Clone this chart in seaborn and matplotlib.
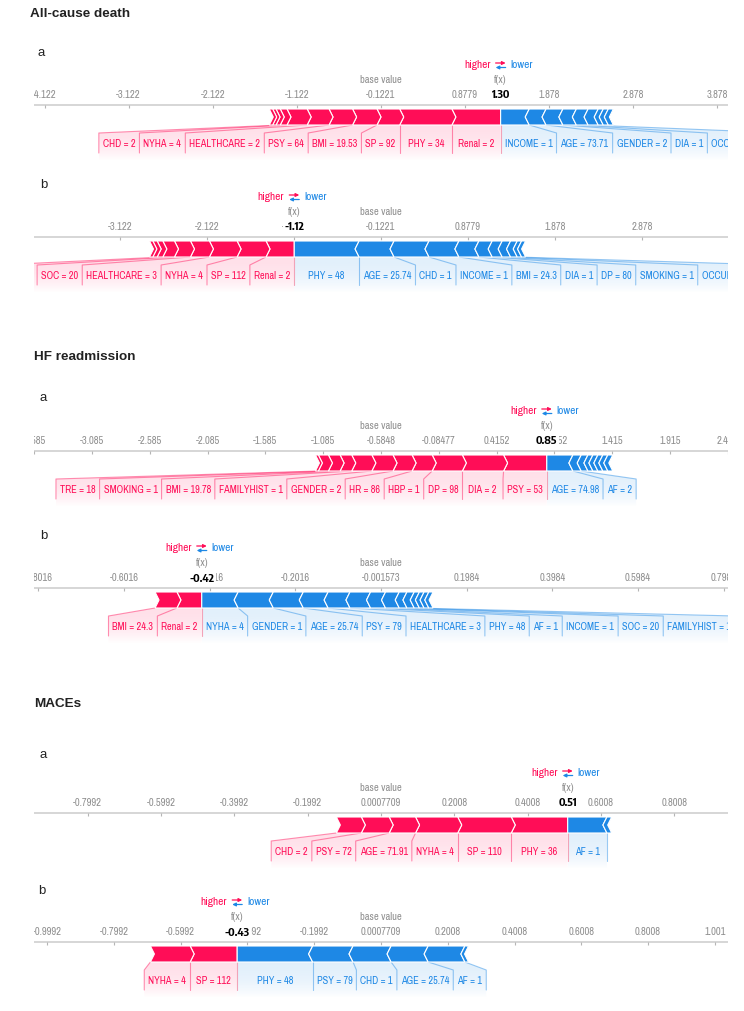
import matplotlib
matplotlib.use("Agg")
import numpy as np
import matplotlib.pyplot as plt
import seaborn as sns
from matplotlib import font_manager
from matplotlib.colors import to_rgb
from matplotlib.patches import Polygon

# ---------------- data (SHAP force plots) ----------------
# features pushing higher (red) / lower (blue), listed from f(x) outward; "" = too small to be labelled

# All-cause death, a
death_a_base = -0.1221
death_a_fx = 1.30
death_a_pos_names = ["Renal = 2", "PHY = 34", "SP = 92", "BMI = 19.53", "PSY = 64",
                     "HEALTHCARE = 2", "NYHA = 4", "CHD = 2", "", "", ""]
death_a_pos_vals = [0.58, 0.62, 0.27, 0.29, 0.28, 0.26, 0.24, 0.08, 0.05, 0.04, 0.04]
death_a_neg_names = ["INCOME = 1", "AGE = 73.71", "GENDER = 2", "DIA = 1", "OCCUPATION = 2",
                     "", "", "", ""]
death_a_neg_vals = [0.34, 0.20, 0.20, 0.16, 0.14, 0.12, 0.06, 0.06, 0.06]

# All-cause death, b
death_b_base = -0.1221
death_b_fx = -1.12
death_b_pos_names = ["Renal = 2", "SP = 112", "NYHA = 4", "HEALTHCARE = 3", "SOC = 20",
                     "HR = 84", "", "", ""]
death_b_pos_vals = [0.325, 0.333, 0.318, 0.218, 0.184, 0.134, 0.065, 0.05, 0.038]
death_b_neg_names = ["PHY = 48", "AGE = 25.74", "CHD = 1", "INCOME = 1", "BMI = 24.3", "DIA = 1",
                     "DP = 80", "SMOKING = 1", "OCCUPATION = 1", "", ""]
death_b_neg_vals = [0.746, 0.402, 0.402, 0.344, 0.230, 0.153, 0.115, 0.096, 0.077, 0.05, 0.046]

# HF readmission, a
hf_a_base = -0.58477
hf_a_fx = 0.85
hf_a_pos_names = ["PSY = 53", "DIA = 2", "DP = 98", "HBP = 1", "HR = 86", "GENDER = 2",
                  "FAMILYHIST = 1", "BMI = 19.78", "SMOKING = 1", "TRE = 18", ""]
hf_a_pos_vals = [0.374, 0.357, 0.261, 0.174, 0.165, 0.183, 0.174, 0.101, 0.101, 0.087, 0.025]
hf_a_neg_names = ["AGE = 74.98", "AF = 2", "", "", "", "", "", ""]
hf_a_neg_vals = [0.226, 0.072, 0.058, 0.043, 0.043, 0.043, 0.043, 0.043]

# HF readmission, b
hf_b_base = -0.001573
hf_b_fx = -0.42
hf_b_pos_names = ["Renal = 2", "BMI = 24.3"]
hf_b_pos_vals = [0.058, 0.051]
hf_b_neg_names = ["NYHA = 4", "GENDER = 1", "AGE = 25.74", "PSY = 79", "HEALTHCARE = 3", "PHY = 48",
                  "AF = 1", "INCOME = 1", "SOC = 20", "FAMILYHIST = 1", "", "", "", ""]
hf_b_neg_vals = [0.085, 0.082, 0.070, 0.058, 0.051, 0.048, 0.035, 0.032, 0.018, 0.017,
                 0.012, 0.011, 0.011, 0.010]

# MACEs, a
mace_a_base = 0.0007709
mace_a_fx = 0.51
mace_a_pos_names = ["PHY = 36", "SP = 110", "NYHA = 4", "AGE = 71.91", "PSY = 72", "CHD = 2"]
mace_a_pos_vals = [0.154, 0.146, 0.115, 0.072, 0.076, 0.068]
mace_a_neg_names = ["AF = 1", ""]
mace_a_neg_vals = [0.107, 0.013]

# MACEs, b
mace_b_base = 0.0007709
mace_b_fx = -0.43
mace_b_pos_names = ["SP = 112", "NYHA = 4"]
mace_b_pos_vals = [0.141, 0.119]
mace_b_neg_names = ["PHY = 48", "PSY = 79", "CHD = 1", "AGE = 25.74", "AF = 1", ""]
mace_b_neg_vals = [0.226, 0.121, 0.114, 0.111, 0.110, 0.011]

section_titles = ["All-cause death", "HF readmission", "MACEs"]
panel_letters = ["a", "b", "a", "b", "a", "b"]

# ---------------- layout (pixels of the 744x1011 picture) ----------------
W, H = 744, 1011
AX_LEFT, AX_WIDTH = 34, 694
axis_rows = [105, 237, 451, 588, 813, 942]
letter_pos = [(37, 53), (40, 185), (40, 398), (40, 536), (40, 755), (38, 891)]
title_pos = [(30, 14), (34, 357), (34, 704)]

RED = "#FF0D57"
BLUE = "#1E88E5"

sns.set_theme(style="white")
available = {f.name for f in font_manager.fontManager.ttflist}
NARROW, SHRINK = "Liberation Sans", 0.84
for cand in ["Liberation Sans Narrow", "Archivo Narrow", "IBM Plex Sans Condensed"]:
    if cand in available:
        NARROW, SHRINK = cand, 1.0
        break
BOLD_NARROW = NARROW
if NARROW == "Archivo Narrow":
    for cand in ["Encode Sans Condensed", "Barlow Semi Condensed"]:
        if cand in available:
            BOLD_NARROW = cand
            break
plt.rcParams["font.family"] = ["Liberation Sans", "DejaVu Sans"]

TICK_FS = 7.6 * SHRINK
LABEL_FS = 7.4 * SHRINK
FX_FS = 8.2 * SHRINK


def nice_step(span, count=10):
    raw = span / count
    power = 10 ** np.floor(np.log10(raw))
    err = raw / power
    if err >= np.sqrt(50):
        return 10 * power
    if err >= np.sqrt(10):
        return 5 * power
    if err >= np.sqrt(2):
        return 2 * power
    return power


def shade(ax, verts, color):
    poly = Polygon(verts, closed=True, facecolor="none", edgecolor="none")
    ax.add_patch(poly)
    xs = [v[0] for v in verts]
    grad = np.zeros((60, 1, 4))
    grad[..., :3] = to_rgb(color)
    t = np.linspace(0, 1, 60)
    grad[:, 0, 3] = 0.13 * (1 - t ** 2)
    im = ax.imshow(grad, extent=(min(xs), max(xs), 56, 20), origin="upper",
                   aspect="auto", interpolation="bilinear", zorder=0)
    im.set_clip_path(poly)


def draw_side(ax, renderer, px, fx, names, vals, color, sign):
    # sign = -1 for red (blocks go left of f(x)), +1 for blue
    depth = 4 * px
    edge = fx
    prev_box = fx
    outer_block = fx
    for i, (name, v) in enumerate(zip(names, vals)):
        near, far = edge, edge + sign * v
        lo, hi = min(near, far), max(near, far)
        if sign < 0:
            d_left, d_right = depth, (0 if i == 0 else depth)
        else:
            d_left, d_right = (0 if i == 0 else -depth), -depth
        verts = [(lo, 4), (hi, 4), (hi + d_right, 12), (hi, 20), (lo, 20), (lo + d_left, 12)]
        ax.add_patch(Polygon(verts, closed=True, facecolor=color, edgecolor="white",
                             lw=0.8, zorder=2))
        if name:
            t = ax.text(0, 39, name, color=color, fontsize=LABEL_FS, family=NARROW,
                        ha="center", va="center", clip_on=True, zorder=3)
            tw = (t.get_window_extent(renderer=renderer).width + 8) * px
            if sign < 0:
                box_far = min(far, prev_box - tw)
            else:
                box_far = max(far, prev_box + tw)
            t.set_x((prev_box + box_far) / 2)
            ax.plot([far, box_far, box_far], [20, 28, 48], color=color, alpha=0.45,
                    lw=0.8, zorder=1)
            prev_box = box_far
            outer_block = far
        edge = far
    shade(ax, [(fx, 20), (outer_block, 20), (prev_box, 28), (prev_box, 56), (fx, 56)], color)


def draw_force(fig, renderer, y_axis, base, fx, pos_names, pos_vals, neg_names, neg_vals):
    ax = fig.add_axes([AX_LEFT / W, 1 - (y_axis + 58) / H, AX_WIDTH / W, 110 / H])
    ax.set_axis_off()
    hw = 1.5 * max(sum(pos_vals), sum(neg_vals))
    px = 2 * hw / AX_WIDTH  # data units per pixel

    # axis with ticks centred on the base value
    ax.plot([base - hw, base + hw], [0, 0], color="#cccccc", lw=1.1, zorder=1)
    step = nice_step(2 * hw)
    kmax = int(np.floor(hw / step + 1e-9))
    ticks = [base + k * step for k in range(-kmax, kmax + 1)]
    ax.vlines(ticks, 0, 3, color="#b5b5b5", lw=0.8)
    for v in ticks:
        ax.text(v, -10, "%.4g" % v, color="#8f8f8f", fontsize=TICK_FS, family=NARROW,
                ha="center", va="center", clip_on=True)

    draw_side(ax, renderer, px, fx, pos_names, pos_vals, RED, -1)
    draw_side(ax, renderer, px, fx, neg_names, neg_vals, BLUE, 1)
    ax.plot([fx, fx], [20, 48], color="#f2a3b8", lw=0.8, zorder=1)

    # f(x), base value and the legend
    ax.text(fx, -10, "%.2f" % fx, color="black", fontsize=FX_FS, family=BOLD_NARROW,
            weight="bold", ha="center", va="center", zorder=4,
            bbox=dict(facecolor="white", edgecolor="none", pad=1.0))
    ax.text(fx, -25, "f(x)", color="#8f8f8f", fontsize=TICK_FS, family=NARROW,
            ha="center", va="center")
    ax.text(base, -25, "base value", color="#8f8f8f", fontsize=TICK_FS, family=NARROW,
            ha="center", va="center")
    ax.text(fx - 10 * px, -40, "higher", color=RED, fontsize=FX_FS, family=NARROW,
            ha="right", va="center")
    ax.text(fx + 10 * px, -40, "lower", color=BLUE, fontsize=FX_FS, family=NARROW,
            ha="left", va="center")
    ax.annotate("", xy=(fx + 5 * px, -42), xytext=(fx - 5 * px, -42),
                arrowprops=dict(arrowstyle="-|>", color=RED, lw=0.9, mutation_scale=5,
                                shrinkA=0, shrinkB=0))
    ax.annotate("", xy=(fx - 5 * px, -37.5), xytext=(fx + 5 * px, -37.5),
                arrowprops=dict(arrowstyle="-|>", color=BLUE, lw=0.9, mutation_scale=5,
                                shrinkA=0, shrinkB=0))

    ax.set_xlim(base - hw, base + hw)
    ax.set_ylim(58, -52)
    return ax


fig = plt.figure(figsize=(W / 100, H / 100), dpi=100)
renderer = fig.canvas.get_renderer()

panels = [
    (death_a_base, death_a_fx, death_a_pos_names, death_a_pos_vals, death_a_neg_names, death_a_neg_vals),
    (death_b_base, death_b_fx, death_b_pos_names, death_b_pos_vals, death_b_neg_names, death_b_neg_vals),
    (hf_a_base, hf_a_fx, hf_a_pos_names, hf_a_pos_vals, hf_a_neg_names, hf_a_neg_vals),
    (hf_b_base, hf_b_fx, hf_b_pos_names, hf_b_pos_vals, hf_b_neg_names, hf_b_neg_vals),
    (mace_a_base, mace_a_fx, mace_a_pos_names, mace_a_pos_vals, mace_a_neg_names, mace_a_neg_vals),
    (mace_b_base, mace_b_fx, mace_b_pos_names, mace_b_pos_vals, mace_b_neg_names, mace_b_neg_vals),
]

for y_axis, panel in zip(axis_rows, panels):
    draw_force(fig, renderer, y_axis, *panel)

for (x, y), letter in zip(letter_pos, panel_letters):
    fig.text(x / W, 1 - y / H, letter, fontsize=9.5, color="#222222", ha="left", va="center")

for (x, y), title in zip(title_pos, section_titles):
    fig.text(x / W, 1 - y / H, title, fontsize=9.7, weight="bold", color="#222222",
             ha="left", va="center")

fig.savefig("out.png", dpi=100)
